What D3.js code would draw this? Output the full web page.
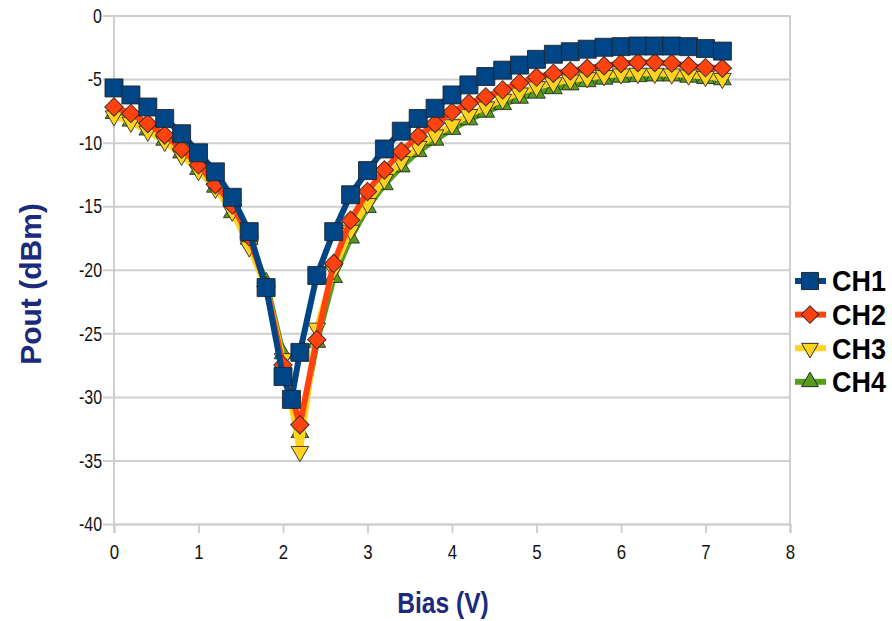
<!DOCTYPE html>
<html>
<head>
<meta charset="utf-8">
<script src="https://cdn.jsdelivr.net/npm/d3@7"></script>
<style>
  body { margin: 0; background: #fff; }
  svg { display: block; }
</style>
</head>
<body>
<div id="chart"></div>
<script>
// valores
const bias = [0, 0.2, 0.4, 0.6, 0.8, 1.0, 1.2, 1.4, 1.6, 1.8, 2.0, 2.2, 2.4, 2.6, 2.8, 3.0, 3.2, 3.4, 3.6,
  3.8, 4.0, 4.2, 4.4, 4.6, 4.8, 5.0, 5.2, 5.4, 5.6, 5.8, 6.0, 6.2, 6.4, 6.6, 6.8, 7.0, 7.2];
// CH1 tem um ponto extra em 2.1 V
const biasCH1 = [0, 0.2, 0.4, 0.6, 0.8, 1.0, 1.2, 1.4, 1.6, 1.8, 2.0, 2.1, 2.2, 2.4, 2.6, 2.8, 3.0, 3.2, 3.4, 3.6,
  3.8, 4.0, 4.2, 4.4, 4.6, 4.8, 5.0, 5.2, 5.4, 5.6, 5.8, 6.0, 6.2, 6.4, 6.6, 6.8, 7.0, 7.2];

const ch1 = [-5.7, -6.25, -7.2, -8.1, -9.3, -10.8, -12.3, -14.3, -17.0, -21.4, -28.4, -30.2, -26.5, -20.45,
  -17.0, -14.1, -12.2, -10.5, -9.1, -8.1, -7.3, -6.25, -5.46, -4.8, -4.3, -3.9, -3.45, -3.05, -2.85, -2.65,
  -2.5, -2.45, -2.4, -2.4, -2.4, -2.45, -2.6, -2.8];
const ch2 = [-7.2, -7.7, -8.5, -9.4, -10.5, -11.75, -13.3, -14.9, -17.4, -21.3, -27.5, -32.2, -25.5, -19.5,
  -16.1, -13.85, -12.15, -10.7, -9.5, -8.5, -7.6, -6.9, -6.4, -5.85, -5.3, -4.85, -4.55, -4.36, -4.15,
  -3.95, -3.78, -3.7, -3.7, -3.75, -3.95, -4.1, -4.15];
const ch3 = [-7.9, -8.4, -9.1, -9.9, -11.0, -12.2, -13.6, -15.4, -18.2, -21.4, -27.0, -34.3, -24.6, -20.0,
  -16.9, -14.8, -12.9, -11.5, -10.3, -9.4, -8.6, -7.8, -7.2, -6.6, -6.1, -5.6, -5.3, -5.07, -4.9, -4.73,
  -4.6, -4.55, -4.55, -4.6, -4.68, -4.8, -4.95];
const ch4 = [-7.7, -8.3, -9.0, -9.8, -10.8, -12.1, -13.5, -15.5, -17.6, -21.0, -26.6, -32.8, -25.7, -20.6,
  -17.5, -15.1, -13.3, -11.9, -10.7, -9.8, -8.95, -8.2, -7.6, -7.0, -6.5, -6.1, -5.75, -5.45, -5.2, -5.0,
  -4.85, -4.8, -4.75, -4.75, -4.85, -4.95, -5.05];

const seriesNames = ["CH1", "CH2", "CH3", "CH4"];
const xTicks = [0, 1, 2, 3, 4, 5, 6, 7, 8];
const yTicks = [0, -5, -10, -15, -20, -25, -30, -35, -40];

const series = [
  {name: seriesNames[0], x: biasCH1, y: ch1, color: "#004586", shape: "square"},
  {name: seriesNames[1], x: bias, y: ch2, color: "#ff420e", shape: "diamond"},
  {name: seriesNames[2], x: bias, y: ch3, color: "#ffd320", shape: "down"},
  {name: seriesNames[3], x: bias, y: ch4, color: "#579d1c", shape: "up"}
];

const W = 892, H = 621;
const plot = {left: 114, right: 790, top: 15.5, bottom: 524};

const svg = d3.select("#chart").append("svg")
  .attr("width", W)
  .attr("height", H);

const x = d3.scaleLinear().domain([0, 8]).range([plot.left, plot.right]);
const y = d3.scaleLinear().domain([-40, 0]).range([plot.bottom, plot.top]);

const gridColor = "#cfcfcf";
const font = "'Liberation Sans', Arial, sans-serif";

// comprime o texto na horizontal (fonte estreita do original)
function narrow(sel, k) {
  sel.each(function() {
    const len = this.getComputedTextLength();
    d3.select(this).attr("textLength", len * k).attr("lengthAdjust", "spacingAndGlyphs");
  });
}

// grade horizontal e eixo y
const yAxis = d3.axisLeft(y).tickValues(yTicks).tickSize(-(plot.right - plot.left)).tickPadding(6)
  .tickFormat(d => String(d));
const gy = svg.append("g")
  .attr("transform", `translate(${plot.left},0)`)
  .call(yAxis);
gy.select(".domain").remove();
gy.selectAll(".tick line").attr("stroke", gridColor).attr("stroke-width", 2)
  .attr("x1", -11);
gy.selectAll(".tick text")
  .attr("x", -12)
  .style("font-family", font).style("font-size", "21px").attr("fill", "#111")
  .call(narrow, 0.76);

// borda direita
svg.append("line")
  .attr("x1", plot.right).attr("x2", plot.right)
  .attr("y1", plot.top).attr("y2", plot.bottom)
  .attr("stroke", gridColor).attr("stroke-width", 2);

// eixo x
const xAxis = d3.axisBottom(x).tickValues(xTicks).tickSize(9).tickPadding(11).tickFormat(d => String(d));
const gx = svg.append("g")
  .attr("transform", `translate(0,${plot.bottom})`)
  .call(xAxis);
gx.select(".domain").attr("stroke", gridColor).attr("stroke-width", 2);
gx.selectAll(".tick line").attr("stroke", gridColor).attr("stroke-width", 2);
gx.selectAll(".tick text")
  .style("font-family", font).style("font-size", "21px").attr("fill", "#111")
  .call(narrow, 0.8);

// eixo y (linha vertical)
svg.append("line")
  .attr("x1", plot.left).attr("x2", plot.left)
  .attr("y1", plot.top).attr("y2", plot.bottom + 9)
  .attr("stroke", gridColor).attr("stroke-width", 2);

// marcadores
function symbolPath(shape) {
  if (shape === "square") return d3.symbol(d3.symbolSquare, 324)();
  if (shape === "diamond") return d3.symbol(d3.symbolSquare, 170)();
  return d3.symbol(d3.symbolTriangle, 135)();
}
function symbolRotate(shape) {
  if (shape === "diamond") return 45;
  if (shape === "down") return 180;
  return 0;
}

const line = d3.line();

// desenha CH4 primeiro, CH1 por cima
series.slice().reverse().forEach(s => {
  const pts = s.x.map((v, i) => [x(v), y(s.y[i])]);
  const g = svg.append("g");
  g.append("path")
    .attr("d", line(pts))
    .attr("fill", "none")
    .attr("stroke", s.color)
    .attr("stroke-width", 6)
    .attr("stroke-linejoin", "round");
  g.selectAll("path.mk")
    .data(pts)
    .enter()
    .append("path")
    .attr("class", "mk")
    .attr("d", symbolPath(s.shape))
    .attr("transform", d => `translate(${d[0]},${d[1]}) rotate(${symbolRotate(s.shape)})`)
    .attr("fill", s.color)
    .attr("stroke", "#222")
    .attr("stroke-opacity", 0.85)
    .attr("stroke-width", 1);
});

// legenda
const legend = svg.selectAll(".legend")
  .data(series)
  .enter()
  .append("g")
  .attr("class", "legend")
  .attr("transform", (d, i) => `translate(0,${281 + i * 33.6})`);

legend.append("line")
  .attr("x1", 795).attr("x2", 826)
  .attr("stroke", d => d.color)
  .attr("stroke-width", 6);

legend.append("path")
  .attr("d", d => symbolPath(d.shape))
  .attr("transform", d => `translate(810,0) rotate(${symbolRotate(d.shape)}) scale(0.95)`)
  .attr("fill", d => d.color)
  .attr("stroke", "#222")
  .attr("stroke-width", 1);

legend.append("text")
  .attr("x", 832)
  .attr("y", 0)
  .attr("dy", "0.36em")
  .style("font-family", font)
  .style("font-weight", "bold")
  .style("font-size", "29px")
  .attr("fill", "#000")
  .text(d => d.name)
  .call(narrow, 0.93);

// títulos dos eixos
svg.append("text")
  .attr("text-anchor", "middle")
  .attr("x", 443)
  .attr("y", 613)
  .style("font-family", font)
  .style("font-weight", "bold")
  .style("font-size", "30px")
  .attr("fill", "#1b2a7d")
  .text("Bias (V)")
  .call(narrow, 0.82);

svg.append("text")
  .attr("text-anchor", "middle")
  .attr("transform", "translate(41,284) rotate(-90)")
  .style("font-family", font)
  .style("font-weight", "bold")
  .style("font-size", "30px")
  .attr("fill", "#1b2a7d")
  .text("Pout (dBm)");
</script>
</body>
</html>
